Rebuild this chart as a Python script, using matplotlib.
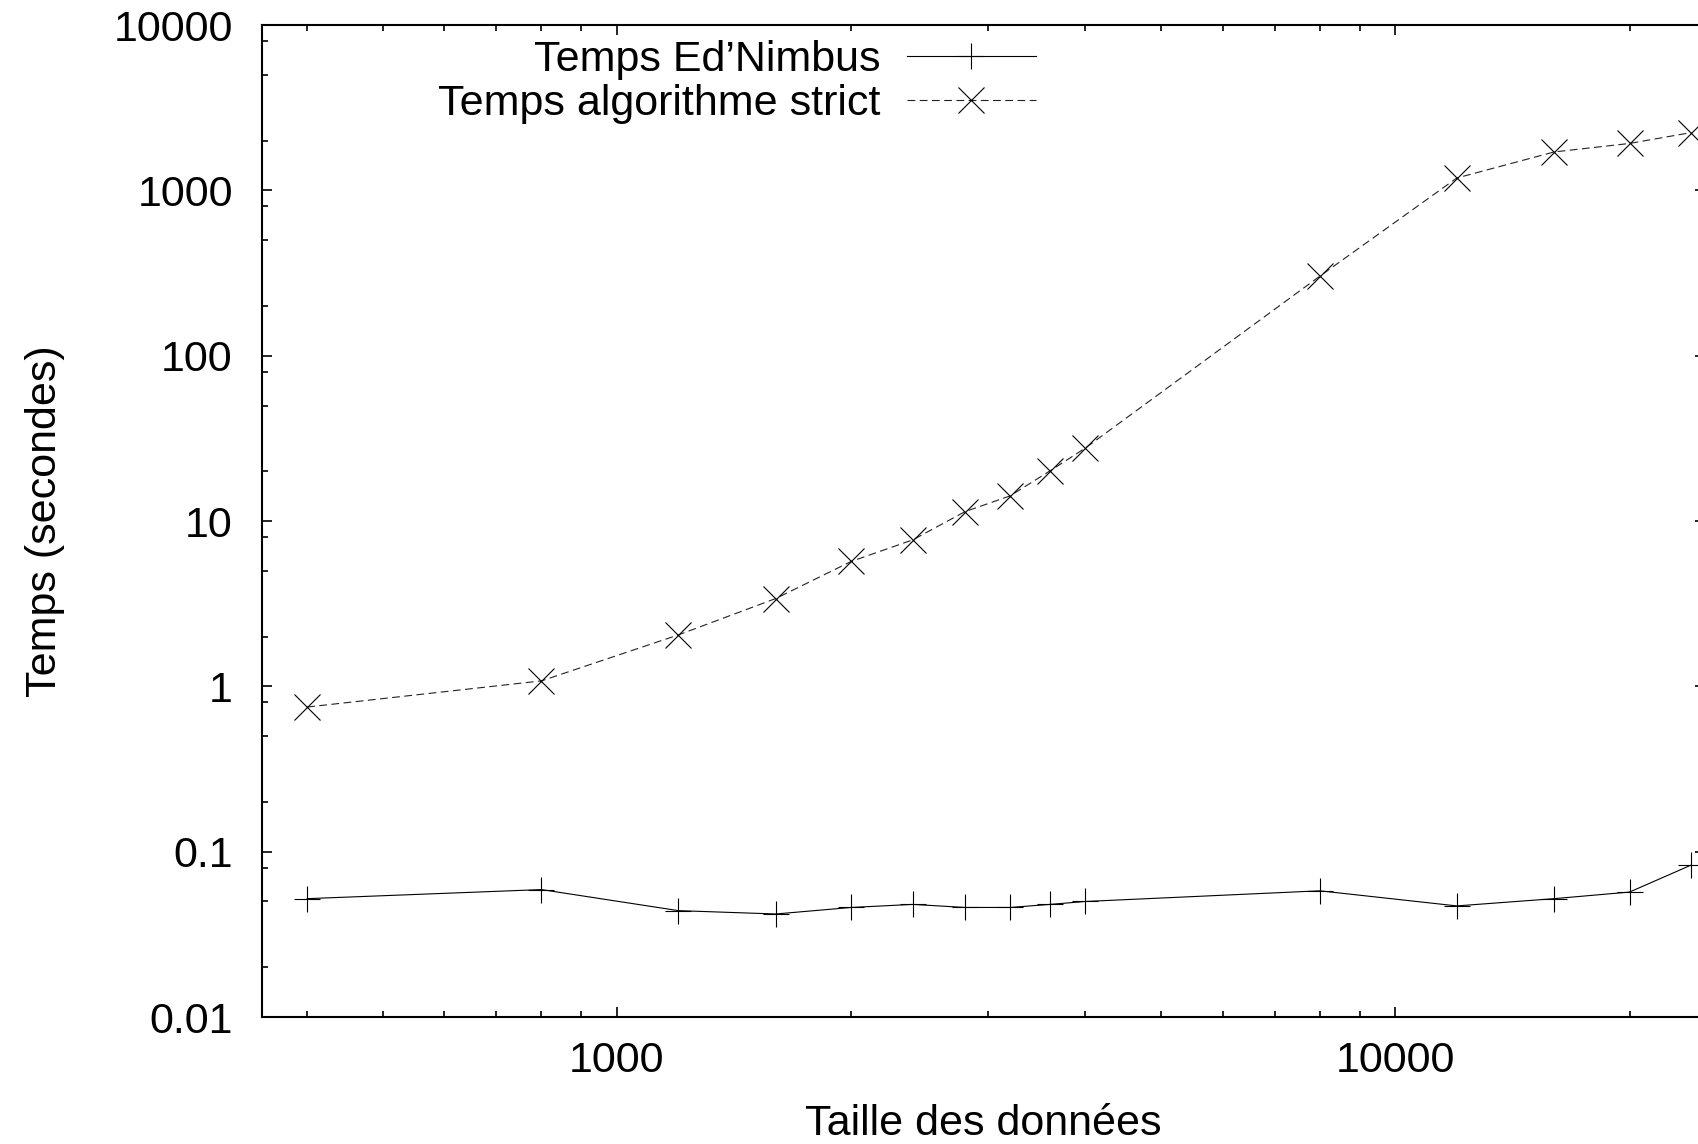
import numpy as np
import matplotlib
matplotlib.use("Agg")
from matplotlib import pyplot as plt
from matplotlib.ticker import FixedLocator, FixedFormatter, NullFormatter

plt.rcParams['font.family'] = ['Liberation Sans', 'DejaVu Sans']

# data
taille = [400, 800, 1200, 1600, 2000, 2400, 2800, 3200, 3600, 4000,
          8000, 12000, 16000, 20000, 24000]
temps_nimbus = [0.052, 0.059, 0.044, 0.042, 0.046, 0.048, 0.046, 0.046, 0.048, 0.050,
                0.058, 0.047, 0.052, 0.057, 0.083]
temps_strict = [0.75, 1.08, 2.05, 3.4, 5.7, 7.7, 11.4, 14.2, 20.1, 27.7,
                303, 1190, 1710, 1925, 2240]

xticks = [1000, 10000]
xtick_labels = ["1000", "10000"]
yticks = [0.01, 0.1, 1, 10, 100, 1000, 10000]
ytick_labels = ["0.01", "0.1", "1", "10", "100", "1000", "10000"]

fs = 31

fig = plt.figure(figsize=(16.99, 11.44), dpi=100)
ax = fig.add_axes([0.1542, 0.111, 0.8493, 0.867])

ax.plot(taille, temps_nimbus, '-', color='black', lw=0.8,
        marker='+', ms=19, mew=0.8, label="Temps Ed\u2019Nimbus")
ax.plot(taille, temps_strict, color='#222222', lw=0.8, ls=(0, (7, 4)),
        marker='x', ms=19, mew=0.8, mec='black', label="Temps algorithme strict")

ax.set_xscale('log')
ax.set_yscale('log')
ax.set_xlim(350, 25000)
ax.set_ylim(0.01, 10000)

ax.xaxis.set_major_locator(FixedLocator(xticks))
ax.xaxis.set_major_formatter(FixedFormatter(xtick_labels))
xminor = [m * 10**k for k in range(2, 5) for m in range(2, 10)]
ax.xaxis.set_minor_locator(FixedLocator(xminor))
ax.xaxis.set_minor_formatter(NullFormatter())

ax.yaxis.set_major_locator(FixedLocator(yticks))
ax.yaxis.set_major_formatter(FixedFormatter(ytick_labels))
yminor = [m * 10.0**k for k in range(-2, 4) for m in (2, 5, 8)]
ax.yaxis.set_minor_locator(FixedLocator(yminor))
ax.yaxis.set_minor_formatter(NullFormatter())

ax.tick_params(which='both', direction='in', top=True, right=True, width=1.2)
ax.tick_params(which='major', length=7)
ax.tick_params(which='minor', length=4)
ax.tick_params(axis='y', which='major', labelsize=fs, pad=21)
ax.tick_params(axis='x', which='major', labelsize=fs, pad=17)
for s in ax.spines.values():
    s.set_linewidth(1.5)

ax.set_xlabel("Taille des donn\u00e9es", fontsize=fs, labelpad=17)
ax.set_ylabel("Temps (secondes)", fontsize=fs, labelpad=35)

ax.legend(loc='upper right', bbox_to_anchor=(1036 / 1699, 1 - 40 / 1144),
          bbox_transform=fig.transFigure, frameon=False, markerfirst=False,
          fontsize=fs, handlelength=3.0, handletextpad=0.6, borderpad=0,
          borderaxespad=0, labelspacing=0.1)

fig.savefig("out.png", dpi=100)
